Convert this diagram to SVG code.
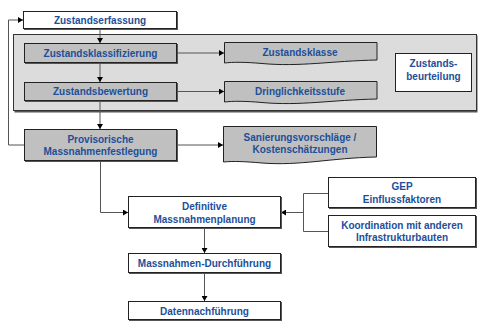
<svg xmlns="http://www.w3.org/2000/svg" width="478" height="322" viewBox="0 0 478 322">
<defs>
<marker id="ah" markerWidth="6" markerHeight="6" refX="5" refY="3" orient="auto" markerUnits="userSpaceOnUse">
<path d="M0,0 L5,3 L0,6 Z" fill="#000"/>
</marker>
<style>
.t{font-family:"Liberation Sans",Arial,sans-serif;font-weight:bold;font-size:10px;fill:#1d4f98;text-anchor:middle}
.w{fill:#fff;stroke:#222;stroke-width:1}
.g{fill:#c0c0c0;stroke:#222;stroke-width:1}
.sh{fill:#555}
.c{fill:none;stroke:#555;stroke-width:1}
.ca{fill:none;stroke:#555;stroke-width:1;marker-end:url(#ah)}
</style>
</defs>
<rect width="478" height="322" fill="#fff"/>
<g id="zustandsbeurteilung-group">
<rect x="14.5" y="35.5" width="463" height="77" class="sh"/>
<rect x="13.5" y="34.5" width="463" height="76" fill="#dcdcdc" stroke="#333"/>
</g>
<g id="connectors">
<path class="ca" d="M100,29 V43"/>
<path class="ca" d="M100,63 V82"/>
<path class="ca" d="M100,101 V129"/>
<path class="ca" d="M177,53 H224"/>
<path class="ca" d="M177,91.5 H224"/>
<path class="ca" d="M177,145 H223"/>
<path class="ca" d="M24,145 H8.5 V20 H23"/>
<path class="ca" d="M100.5,161 V212.5 H128"/>
<path class="ca" d="M204.5,228 V253"/>
<path class="ca" d="M204.5,273 V301"/>
<path class="c" d="M328,193.5 H303.5 V231.5 H328"/>
<path class="ca" d="M303.5,212.5 H281"/>
</g>
<g id="zustandserfassung">
<rect x="24" y="12" width="154" height="18" class="sh"/>
<rect x="23.5" y="11.5" width="153" height="17" class="w"/>
<text class="t" x="100" y="23.5">Zustandserfassung</text>
</g>
<g id="zustandsklassifizierung">
<rect x="25" y="44" width="153" height="20" class="sh"/>
<rect x="24.5" y="43.5" width="152" height="19" class="g"/>
<text class="t" x="100.5" y="56.5">Zustandsklassifizierung</text>
</g>
<g id="zustandsbewertung">
<rect x="25" y="83" width="153" height="19" class="sh"/>
<rect x="24.5" y="82.5" width="152" height="18" class="g"/>
<text class="t" x="100.5" y="95">Zustandsbewertung</text>
</g>
<g id="provisorische">
<rect x="25" y="130" width="153" height="32" class="sh"/>
<rect x="24.5" y="129.5" width="152" height="31" class="g"/>
<text class="t" x="100.5" y="142.5">Provisorische</text>
<text class="t" x="100.5" y="155">Massnahmenfestlegung</text>
</g>
<g id="zustandsklasse">
<path d="M224.5,42.5 H377 V60 C330,61 300,67 262,63.5 C245,62 233,62 224.5,63 Z" class="g"/>
<text class="t" x="300" y="56">Zustandsklasse</text>
</g>
<g id="dringlichkeitsstufe">
<path d="M224.5,81.5 H377 V99 C330,100 300,106 262,102.5 C245,101 233,101 224.5,102 Z" class="g"/>
<text class="t" x="300" y="94.5">Dringlichkeitsstufe</text>
</g>
<g id="sanierungsvorschlaege">
<path d="M223.5,126.5 H376.5 V157 C330,158 300,166 262,163 C245,161.5 233,161 223.5,162 Z" class="g"/>
<text class="t" x="300" y="140.5">Sanierungsvorschläge /</text>
<text class="t" x="300" y="152.5">Kostenschätzungen</text>
</g>
<g id="zustandsbeurteilung">
<rect x="395.5" y="53.5" width="76" height="38" class="w"/>
<text class="t" x="433.5" y="66.5">Zustands-</text>
<text class="t" x="433.5" y="79.5">beurteilung</text>
</g>
<g id="definitive">
<rect x="129" y="197" width="153" height="32" class="sh"/>
<rect x="128.5" y="196.5" width="152" height="31" class="w"/>
<text class="t" x="204.5" y="209.5">Definitive</text>
<text class="t" x="204.5" y="222.5">Massnahmenplanung</text>
</g>
<g id="durchfuehrung">
<rect x="129" y="254" width="153" height="20" class="sh"/>
<rect x="128.5" y="253.5" width="152" height="19" class="w"/>
<text class="t" x="204.5" y="267">Massnahmen-Durchführung</text>
</g>
<g id="datennachfuehrung">
<rect x="129" y="302" width="153" height="19" class="sh"/>
<rect x="128.5" y="301.5" width="152" height="18" class="w"/>
<text class="t" x="204.5" y="314.5">Datennachführung</text>
</g>
<g id="gep">
<rect x="329" y="178" width="148" height="31" class="sh"/>
<rect x="328.5" y="177.5" width="147" height="30" class="w"/>
<text class="t" x="402" y="190">GEP</text>
<text class="t" x="402" y="202.5">Einflussfaktoren</text>
</g>
<g id="koordination">
<rect x="329" y="216" width="148" height="32" class="sh"/>
<rect x="328.5" y="215.5" width="147" height="31" class="w"/>
<text class="t" x="402" y="228.5">Koordination mit anderen</text>
<text class="t" x="402" y="240.5">Infrastrukturbauten</text>
</g>
</svg>
